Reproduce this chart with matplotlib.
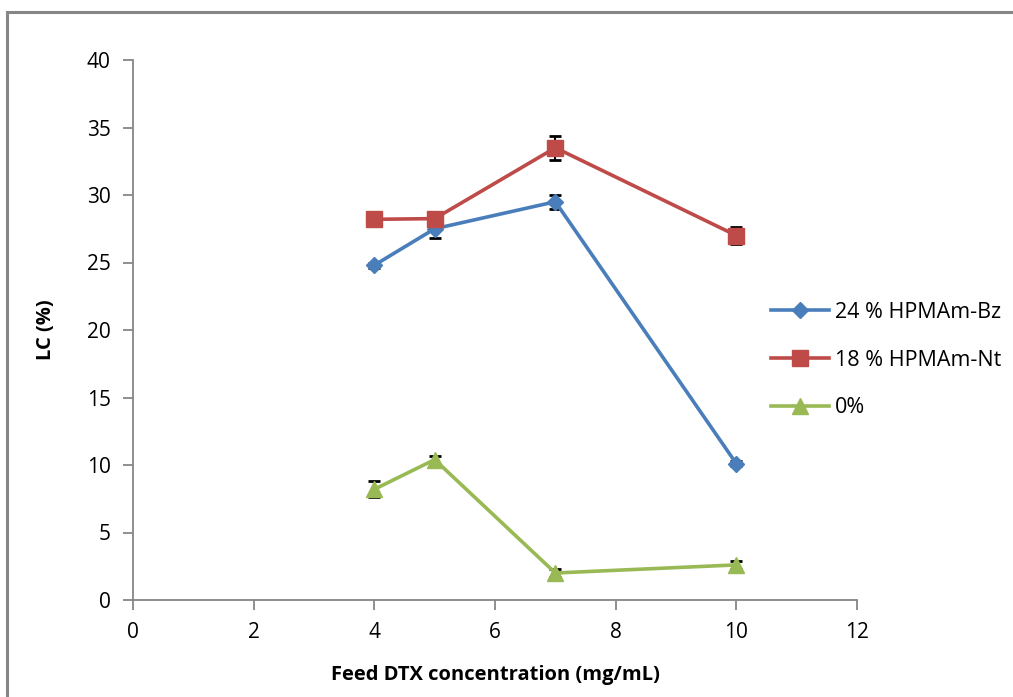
import matplotlib.pyplot as plt
from matplotlib.patches import Rectangle

plt.rcParams['font.family'] = ['Open Sans', 'DejaVu Sans']

feed = [4, 5, 7, 10]
bz = [24.8, 27.5, 29.5, 10.1]
bz_err = [0.2, 0.65, 0.5, 0.2]
nt = [28.2, 28.25, 33.5, 27.0]
nt_err = [0.2, 0.2, 0.9, 0.65]
zero = [8.2, 10.4, 2.0, 2.6]
zero_err = [0.6, 0.3, 0.3, 0.3]

fig = plt.figure(figsize=(10.13, 6.97), dpi=100)
ax = fig.add_axes([133/1013, 1 - 600/697, (857 - 133)/1013, (600 - 60)/697])

# grey frame around the chart (only left and top edges visible)
fig.patches.append(Rectangle((7/1013, -0.1), 2.0, 1 - 12/697 + 0.1,
                             transform=fig.transFigure, fill=False,
                             edgecolor='#868686', linewidth=2.2))

series = [
    (bz, bz_err, '#4A7EBB', 'D', 8, '24 % HPMAm-Bz'),
    (nt, nt_err, '#BE4B48', 's', 11, '18 % HPMAm-Nt'),
    (zero, zero_err, '#98B954', '^', 11, '0%'),
]
for vals, errs, col, mk, ms, lab in series:
    ax.errorbar(feed, vals, yerr=errs, fmt='none', ecolor='black',
                elinewidth=1.5, capsize=4, capthick=2, zorder=2)
    ax.plot(feed, vals, color=col, marker=mk, markersize=ms, linewidth=2.6,
            label=lab, zorder=3)

ax.set_xlim(0, 12)
ax.set_ylim(0, 40)
ax.set_xticks(range(0, 13, 2))
ax.set_yticks(range(0, 41, 5))
for s in ['top', 'right']:
    ax.spines[s].set_visible(False)
for s in ['left', 'bottom']:
    ax.spines[s].set_color('#868686')
    ax.spines[s].set_linewidth(1.3)
ax.tick_params(direction='out', length=7, width=1.3, color='#868686',
               labelsize=15, pad=9)

ax.set_xlabel('Feed DTX concentration (mg/mL)', fontsize=14.5, fontweight='bold',
              labelpad=16)
ax.set_ylabel('LC (%)', fontsize=14.5, fontweight='bold', labelpad=22)

fig.legend(loc='upper left', bbox_to_anchor=(762/1013, 1 - 293/697),
           frameon=False, fontsize=15.5, labelspacing=1.25, handlelength=2.7,
           handletextpad=0.3, borderaxespad=0)

fig.savefig('out.png', dpi=100)
